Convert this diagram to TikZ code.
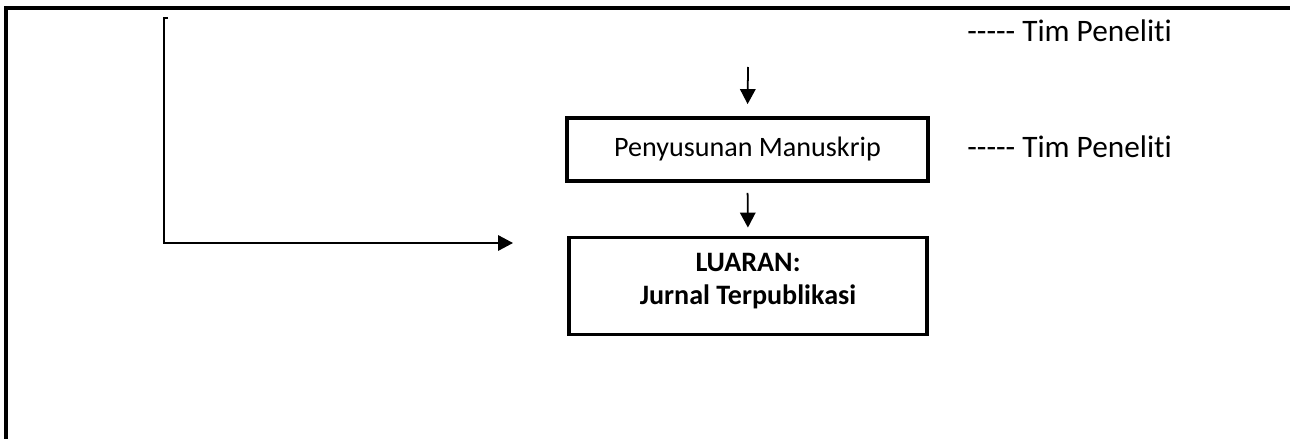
\documentclass[tikz,border=0pt]{standalone}
\usepackage{fontspec}
\setmainfont{Carlito}[Ligatures={TeXOff,NoCommon}]
\usetikzlibrary{arrows.meta}
\colorlet{box edge}{black}
\tikzset{stagebox/.style={draw=box edge, line width=2.2pt, align=center, font=\fontsize{16}{18.5}\selectfont},
    link/.style={line width=1pt, -{Triangle[length=0.3cm,width=0.31cm]}},
    note/.style={anchor=west, inner sep=0pt, font=\fontsize{17.8}{20}\selectfont}}

\begin{document}
\begin{tikzpicture}[x=0.02cm, y=-0.02cm]
    \useasboundingbox (0,0) rectangle (1290,439);
    % frame
    \draw[line width=1.9pt] (1290,8) -- (6,8) -- (6,439);
    \node[stagebox, minimum width=7.22cm, minimum height=1.26cm] (ms) at (747.5,149.5) {Penyusunan Manuskrip};
    \node[stagebox, minimum width=7.16cm, minimum height=1.94cm, text depth=8pt, font=\fontsize{16}{18.5}\selectfont\bfseries] (out) at (748,286)
      {LUARAN:\\Jurnal Terpublikasi};
    \node[note] (tim1) at (967,31) {----- Tim Peneliti};
    \node[note] (tim2) at (967,147) {----- Tim Peneliti};
    \coordinate (top) at (748,67);
    \coordinate (brk) at (164,18);
    \coordinate (enter) at (513,243);
    \draw[link, shorten >=0.24cm] (top) -- (ms.north);
    \draw[link, shorten <=0.2cm, shorten >=0.16cm] (ms.south) -- (out.north);
    \draw[link] (brk) ++(4,0) -- (brk) |- (enter);
\end{tikzpicture}
\end{document}
